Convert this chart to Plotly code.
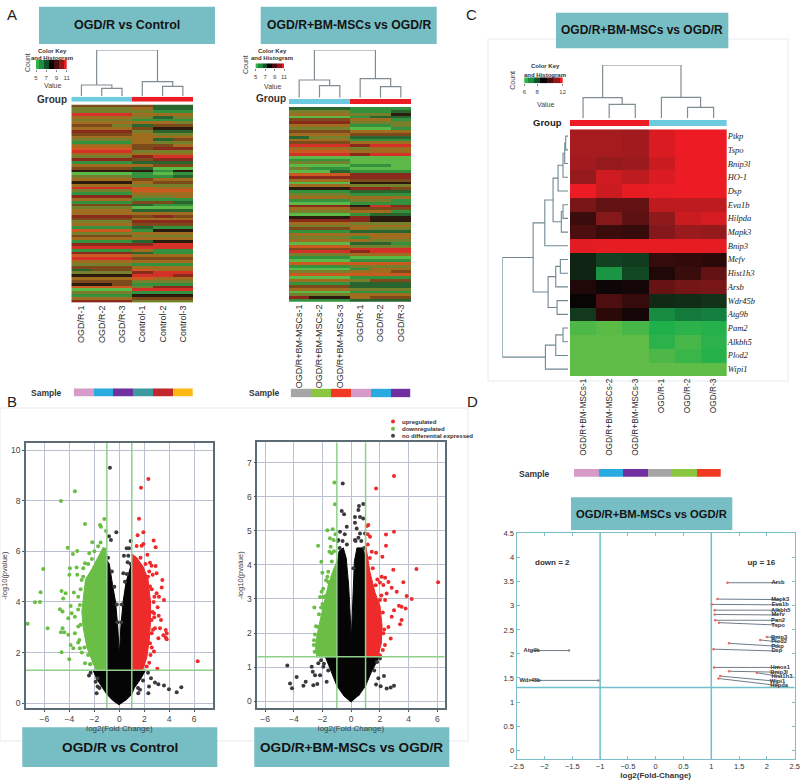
import plotly.graph_objects as go

W, H = 800, 780

# ---------- data ----------
SAMPLES_A = ["OGD/R-1", "OGD/R-2", "OGD/R-3", "Control-1", "Control-2", "Control-3"]
SAMPLES_B = ["OGD/R+BM-MSCs-1", "OGD/R+BM-MSCs-2", "OGD/R+BM-MSCs-3", "OGD/R-1", "OGD/R-2", "OGD/R-3"]
GENES_C = ["Ptkp", "Tspo", "Bnip3l", "HO-1", "Dsp", "Eva1b", "Hilpda", "Mapk3", "Bnip3", "Mefv",
           "Hist1h3", "Arsb", "Wdr45b", "Atg9b", "Pam2", "Alkbh5", "Plod2", "Wipi1"]
HEAT_C = [
    [.70, .70, .68, .92, 1, 1], [.70, .70, .68, .92, 1, 1], [.68, .62, .65, .85, 1, 1],
    [.62, .87, .80, .92, 1, 1], [1, .85, .97, .98, 1, 1], [.50, .40, .40, .80, .80, .80],
    [.22, .55, .38, .60, .85, .90], [.30, .22, .20, .55, .65, .62], [.95, .97, .97, .97, .97, .97],
    [-.10, -.20, -.18, .20, .18, .15], [-.10, -.55, -.22, .10, .22, .40], [.10, .02, .05, .42, .48, .50],
    [0, .30, .20, -.12, -.13, -.15], [-.17, .15, .05, -.50, -.40, -.43], [-.88, -.93, -.85, -.70, -.75, -.72],
    [-.95, -.95, -.95, -.75, -.85, -.75], [-.95, -.95, -.95, -.88, -.80, -.73], [-.95, -.95, -.95, -.95, -.95, -.95],
]
# stripe heatmaps: one letter per sample, G bright green ... S bright red
HEAT_A_ROWS = [
 "BBBBDD","VVVODD","VVVVMM","SSSOOO","OOOVDV","VVVMMM","OOOOOV","BBVDBB","OOOBKK","RRRVDD",
 "BBBOVV","OOOOOO","VVVODB","MMMOVV","OOOBBO","EEEBRR","SSSVVV","OOOOOO","VVVRSS","RRRBRR",
 "MMMDDD","OOOOBB","BBBDGG","KKKKMK","GGGMGM","VVVMMD","OOOBOO","KKKOBB","OOOVVV","SSSEOO",
 "VVVEEE","MMMOOO","RRRVVO","OOOMMM","MMMBBD","BBBDMM","VVVGGG","OOODDD","OOOOOO","RRRBRB",
 "BBBOOO","VVVRRR","OOOBBB","MMMDMM","EEEMKK","VVVOOO","BBBVVV","OOOOOO","MMMDKK","RRRRSS",
 "SSSSSS","MMMOMM","RRRDMM","EEEOOO","SSSBBB","OOOOOO","VVVMMM","BBBOOO","DBBEOO","VVVRSS",
 "KKKSSR","OOOEOO","BBBVVV","KKBMMM","EEEVRR","GGGSSS","VVVMMM","MMMKKK","OOOBBB","RRRVVV",
]
HEAT_B_ROWS = [
 "DDDMMM","VVVMMD","OOOVVK","GGGMDD","BBBOOM","RRRVVV","OOOMMV","VVVGGM","BBBOOO","OOOBBB",
 "DVVDDD","OOOMMM","BBBOOO","SSSRSS","OOOVOO","EEEOOO","SSSRSS","GGGGGG","MMMGGG","VVVGGG",
 "GGGMMG","VMMGGG","GGDMMM","EEERRR","RRRRRR","OOOBBB","GGGKKK","OOOVVV","KKKRRB","MMMDDD",
 "VVVMMM","OOOOOO","MMMVVM","GGGMMM","RRRKSR","OOOBBB","VVVOOM","GGGMDD","KKKRKK","RRRRKK",
 "OOOVVV","VVVOOO","BBBOVV","MMMDDD","OOOOOO","VVVMOO","OOOOVV","GGGDDM","EEEVVV","BBBSSS",
 "SSSRSS","VVVOOO","MMMGGG","GGGMMM","EEEEEE","MMMVVV","GGGMOO","VVVOOB","EEEEEE","GGGMMM",
 "OOOVBB","MMMDDD","BBBDDD","OOOVVV","GGGMMM","VVVOOO","RKKOBB","MMMDDD",
]
TREE_COL_A = ((1, (2, 3, 7.7), 11), (4, (5, 6, 9.7), 14.3), 46)
TREE_COL_B = ((1, (2, 3, 12), 17.7), (4, (5, 6, 11), 19), 47.7)
TREE_COL_C = ((1, (2, 3, 14), 20.6), (4, (5, 6, 11), 21), 53.3)
TREE_ROW_C = (
    ((((((((1, 2, 2.3), 3, 3.3), 4, 5), 5, 10), ((6, 7, 5), 8, 6.7), 15), 9, 23.3),
      (((10, 11, 7.7), 12, 12.3), (13, 14, 11), 20), 35),
     (((15, 16, 5), 17, 12.3), 18, 22.7), 66))

V1_BLACK_X = [0, -.5, -1, -1.4, -1.8, -2.1, -1, -1, -.8, -.55, -.3, -.12, -.05, 0, .06, .12, .3, .55, .85, 1, 1, 2.1, 1.7, 1.2, 1, .5]
V1_BLACK_Y = [-.07, .1, .35, .65, .95, 1.3, 1.3, 5.65, 5.5, 4.7, 4, 3, 2.4, 1.9, 2.4, 3, 4, 4.8, 5.3, 5.6, 1.3, 1.3, .95, .6, .35, .1]
V1_GREEN_X = [-1, -1.9, -2.2, -2.6, -2.9, -3, -2.85, -2.7, -2.2, -1.8, -1.3, -1]
V1_GREEN_Y = [1.3, 1.35, 1.7, 2.2, 3, 3.6, 4.3, 4.9, 5.3, 5.7, 6.15, 6.1]
V1_RED_X = [1, 1.9, 2.2, 2.4, 2.5, 2.5, 2.3, 1.9, 1.4, 1]
V1_RED_Y = [1.3, 1.35, 1.8, 2.5, 3.2, 4, 4.9, 5.4, 5.75, 5.9]
V1_UP_X = [2.33,1.74,1.58,1.93,1.47,2.75,2.91,1.93,1.79,1.39,2.25,2.46,3.45,2.91,2.59,2.99,2.67,3.4,2.46,2.99,2.81,3.18,3.58,3.07,2.78,3.16,3.34,3.72,3.8,3.53,3.72,3.8,3.26,2.86,2.59,3.13,2.78,6.28,3.05,2.46,2.59,
           2.6,2.7,2.8,2.75,2.6,2.4,2.1,1.7,2.5,2.4,2.2,2.65,2.3]
V1_UP_Y = [8.86,8.51,7.29,6.75,6.64,6.43,6.16,6.29,6.22,6.21,5.86,5.55,4.87,5.42,5.43,5.13,5.07,4.57,4.61,4.34,4.21,4.21,4.08,3.79,3.55,3.45,3.29,2.89,2.76,2.68,2.6,2.53,2.96,2.96,3.29,2.57,2.04,1.66,1.36,2.37,2.76,
           2.2,2.9,3.4,4,4.5,5.2,5.5,5.75,1.9,1.6,1.45,3.6,5]
V1_DOWN_X = [-7.35,-6.76,-6.36,-6.31,-6.1,-5.75,-4.68,-3.56,-2.75,-1.55,-1.47,-1.2,-4.14,-3.72,-3.37,-2.41,-2.17,-1.07,-4.63,-4.3,-4.5,-3.96,-4,-3.42,-3.37,-2.89,-2.75,-3.02,-3.64,-3.9,-4.76,-4.55,-3.82,-4.09,-3.56,-4.55,-4.68,-4.41,-4.09,-3.9,-3.69,-4.63,-4.01,-3.16,-2.75,-2.35,-3.56,-3.29,-3.16,-3.29,-2.62,
             -3.2,-3.1,-3.3,-3.1,-2.9,-2.5,-2.2,-2,-1.7,-1.5,-2.8,-2.5,-3,-3.3,-2.3]
V1_DOWN_Y = [3.14,3.99,4,4.38,5.3,2.96,7.99,8.37,7.08,7.04,6.97,7.28,6.14,5.89,6.01,5.92,6.36,6.8,4.43,4.34,4.14,5.33,5.07,5.36,5.07,5.33,5.53,4.87,4.37,3.84,3.71,3.62,3.55,3.36,3.42,2.96,2.8,2.8,2.7,2.3,2.17,2.01,1.74,2.17,1.58,1.54,2.76,3.03,3.88,4.21,4.61,
             2.5,3.1,3.7,4.5,5,5.5,5.7,6,6.2,6.35,2.2,1.9,2,2.4,1.55]
V1_NS_X = [-.75,-.24,-.83,-.67,.91,.78,.59,.37,.72,.67,.32,-2.43,-1.74,-1.82,-1.74,2.54,2.38,2.86,3.13,3.58,3.98,4.6,4.97,2.33,1.66,1.52,
           -.9,-.6,-.4,-.2,.2,.45,.6,.9,-2.3,2.3,-1.6,1.5,-1.9,1.9,-.15,.15]
V1_NS_Y = [9.3,6.75,6.6,6.45,6.41,6.12,6.12,5.83,5.83,5.57,5.13,1.09,.99,.39,.66,.99,.66,.82,.75,.7,.55,.43,.63,.39,.53,.39,
           5.75,5.2,4.6,3.9,3.9,4.8,5.1,5.5,1.2,1.2,.6,.6,.85,.9,3.2,3.2]

V2_BLACK_X = [0, -.5, -1, -1.4, -1.8, -1, -1, -.85, -.55, -.35, -.18, -.08, 0, .08, .17, .22, .4, .85, 1, 1, 1.95, 1.4, 1, .5]
V2_BLACK_Y = [-.03, .15, .45, .85, 1.3, 1.3, 3.9, 4.4, 4.5, 4.2, 3.4, 2.6, 1.8, 2.6, 3.4, 4.1, 4.5, 4.5, 4.1, 1.3, 1.3, .85, .45, .15]
V2_GREEN_X = [-1, -2.4, -2.5, -2.35, -2.1, -1.85, -1.6, -1.3, -1]
V2_GREEN_Y = [1.3, 1.3, 1.6, 2, 2.5, 3, 3.4, 3.8, 4.1]
V2_RED_X = [1, 1.85, 2.1, 2.15, 2, 1.65, 1.3, 1.1, 1]
V2_RED_Y = [1.3, 1.3, 1.7, 2.2, 2.8, 3.2, 3.8, 4.3, 4.6]
V2_UP_X = [2.98,1.73,2.98,2.42,2.42,2.17,2.93,4.54,6.05,3.63,3.86,4.21,1.08,1.19,1.31,1.43,1.73,2.12,2.36,1.82,2.59,2,2.24,2.82,3.17,2.47,3.33,3.51,3.79,3.51,3.4,2.98,2.82,2.59,2.75,2.24,1.89,2.36,2,
           2.2,2.3,2.2,2.1,1.7,1.5,1.3,1.15,1.15,2,2.35]
V2_UP_Y = [6.61,6.24,4.97,4.89,4.56,4.24,3.86,3.88,3.49,3.49,3.09,3,5.14,5.17,4.83,4.39,4.36,3.65,3.62,3.57,3.5,3.48,3.41,3.33,3.21,3.16,2.8,2.77,2.72,2.38,2.26,2.67,2.48,2.18,1.84,1.99,2.57,2.97,2.97,
           1.5,2.1,2.6,3.1,3.4,3.9,4.2,4.6,4.9,1.35,1.65]
V2_DOWN_X = [-1.17,-1.13,-2.31,-1.66,-1.29,-2.08,-2.01,-1.48,-1.52,-1.36,-1.43,-1.66,-1.59,-1.75,-2.06,-2.17,-1.94,-2.57,-2.1,-2.29,-2.52,-2.59,-1.24,
             -2.55,-2.6,-2.45,-2.25,-2,-1.95,-1.75,-1.6,-1.35,-1.2,-1.1,-2.3]
V2_DOWN_Y = [6.42,5.78,4.56,5.02,5.05,4.09,3.77,4.78,4.39,4.34,4.53,3.65,3.5,3.55,3.21,3.06,3.06,2.75,2.75,2.18,1.96,1.79,4.73,
             1.45,1.65,2.2,2.55,2.85,3.3,3.1,3.8,4.1,4.4,4.9,1.35]
V2_NS_X = [-.59,-.66,-.5,.84,.54,.5,.26,.61,.84,.26,.38,.61,.96,-.78,-.31,-.9,.26,-4.45,-3.8,-4.26,-4.12,-3.33,-3.17,-2.64,-2.36,-2.75,-2.68,-2.52,-2.17,-1.71,2.28,1.73,2.05,2.47,2.75,2.98,1.89,-1.94,-2.29,
           -.95,-.8,-.6,-.3,.3,.5,.7,.9,-2.1,-1.9,-1.6,1.6,2,1.8,-.45,.15]
V2_NS_Y = [6.39,5.58,5.49,5.79,5.73,5.61,5.41,5.41,5.36,5.24,5.07,4.92,4.92,4.97,5.12,4.73,4.73,1.05,.71,.52,.38,.45,.57,.47,.5,1.01,.86,.76,.76,.57,.74,.49,.44,.37,.4,.45,.67,1.01,1.11,
           4.7,4.5,4.7,4.6,4.7,4.8,4.7,4.5,1.2,1.1,.9,.9,1.25,1.15,4.9,3.9]

D_GENES = ["Arsb","Mapk3","Eva1b","Alkbh5","Mefv","Pan2","Tspo","Bnip3","Plod2","Ptkp","Dsp","Hmox1","Bnip3l","Hist1h3","Wipi1","Hilpda","Atg9b","Wdr45b"]
D_FC = [1.29,1.11,1.01,1.06,1.06,1.07,1.14,2.0,1.88,1.32,1.04,1.05,1.32,1.82,1.16,1.13,-1.56,-1.03]
D_P = [3.48,3.14,3.03,2.91,2.82,2.70,2.65,2.35,2.29,2.22,2.10,1.72,1.64,1.61,1.54,1.49,2.07,1.45]
D_LABEL_X = [2.2,2.24,2.24,2.25,2.2,2.2,2.2,2.22,2.22,2.19,2.18,2.24,2.22,2.27,2.19,2.22,-2.23,-2.26]
D_LABEL_Y = [3.48,3.13,3.02,2.91,2.81,2.70,2.60,2.35,2.25,2.16,2.06,1.72,1.62,1.52,1.43,1.34,2.07,1.45]

KEY_A = [5, 6, 7, 8, 9, 10, 11]
KEY_C = [6, 7, 8, 9, 10, 11, 12]
FC_CUT = [-1, 1]
P_CUT = 1.3

# ---------- styles ----------
TEAL = "#76BDC4"
SKY, RED = "#6CCBE0", "#ED1C24"
PINK, BLUE, PURPLE, SEA, CRIM, AMBER = "#D79BC9", "#29ABE2", "#7030A0", "#3F9AA0", "#C1272D", "#FDB913"
GRAY, LIME, VERM = "#A6A6A6", "#8CC63F", "#F03A24"
CODES = "GMDKVOBRES"
PALETTE = ["#5cb947", "#34923f", "#2a6530", "#2c1c10", "#76802c", "#a06c20", "#7d4a1c", "#8a2a1c", "#cc5a20", "#d43228"]
KEY_SCALE = [[0, "#2fb34a"], [.25, "#137a3c"], [.5, "#0a0505"], [.75, "#6b1212"], [1, "#ed1c24"]]
C_SCALE = [[0, "#6cbe45"], [.15, "#1fb04b"], [.3, "#137a3c"], [.425, "#12331a"], [.5, "#0a0505"],
           [.65, "#4c0e0e"], [.8, "#8f1a1c"], [1, "#ed1c24"]]
SANS = "Liberation Sans"
fig = go.Figure()
n_ax = 0


def px(x0, x1):
    return [x0 / W, x1 / W]


def py(y0, y1):
    return [1 - y1 / H, 1 - y0 / H]


def axes(box, xopt=None, yopt=None):
    """Create an x/y axis pair on a pixel box (x0, x1, y0, y1)."""
    global n_ax
    n_ax += 1
    s = "" if n_ax == 1 else str(n_ax)
    hidden = dict(visible=False, fixedrange=True, automargin=False)
    xa = dict(hidden, domain=px(box[0], box[1]), anchor="y" + s)
    ya = dict(hidden, domain=py(box[2], box[3]), anchor="x" + s)
    xa.update(xopt or {})
    ya.update(yopt or {})
    fig.layout["xaxis" + s] = xa
    fig.layout["yaxis" + s] = ya
    return "x" + s, "y" + s


def discrete(colors):
    n = len(colors)
    out = []
    for i, c in enumerate(colors):
        out += [[i / n, c], [(i + 1) / n, c]]
    return out


def strip(colors, box):
    xa, ya = axes(box, dict(range=[-.5, len(colors) - .5]), dict(range=[-.5, .5]))
    fig.add_trace(go.Heatmap(z=[list(range(len(colors)))], colorscale=discrete(colors), zmin=-.5,
                             zmax=len(colors) - .5, showscale=False, hoverinfo="skip", xaxis=xa, yaxis=ya))


def walk(node, pos, hgt):
    if isinstance(node, int):
        return node, 0
    pa, ha = walk(node[0], pos, hgt)
    pb, hb = walk(node[1], pos, hgt)
    pos += [pa, pa, pb, pb, None]
    hgt += [ha, node[2], node[2], hb, None]
    return (pa + pb) / 2, node[2]


def dendro_col(tree, box):
    pos, hgt = [], []
    walk(tree, pos, hgt)
    xa, ya = axes(box, dict(range=[.5, 6.5]), dict(range=[0, box[3] - box[2]]))
    fig.add_trace(go.Scatter(x=pos, y=hgt, mode="lines", line=dict(color="#7f8c92", width=1.2),
                             hoverinfo="skip", showlegend=False, xaxis=xa, yaxis=ya))


def stripes(rows, names, box, size):
    z = [[CODES.index(c) for c in r] for r in rows]
    xa, ya = axes(box,
                  dict(visible=True, showline=False, showgrid=False, ticks="", tickangle=-90, type="category",
                       tickfont=dict(family=SANS, size=size, color="#2a2a2a"), zeroline=False),
                  dict(autorange="reversed"))
    fig.add_trace(go.Heatmap(z=z, x=names, colorscale=discrete(PALETTE), zmin=-.5, zmax=len(PALETTE) - .5,
                             showscale=False, hoverinfo="skip", xaxis=xa, yaxis=ya))


def note(text, x, y, size=9, color="#222", bold=False, angle=0, family=SANS):
    fig.add_annotation(x=x / W, y=1 - y / H, xref="paper", yref="paper", text=f"<b>{text}</b>" if bold else text,
                       showarrow=False, font=dict(family=family, size=size, color=color), textangle=angle,
                       xanchor="center", yanchor="middle")


def box(x0, x1, y0, y1, text, size):
    fig.add_shape(type="rect", xref="paper", yref="paper", x0=x0 / W, x1=x1 / W, y0=1 - y1 / H, y1=1 - y0 / H,
                  fillcolor=TEAL, line=dict(width=0), layer="below")
    note(text, (x0 + x1) / 2, (y0 + y1) / 2, size, "#141414", True)


def key(values, ticks, box_, title_y, title_x, value_y, count_x, count_y, tick_size=6):
    xa, ya = axes(box_, dict(visible=True, range=[values[0], values[-1]], tickvals=ticks, ticks="outside", ticklen=2,
                             tickcolor="#888", showline=False, showgrid=False, zeroline=False,
                             tickfont=dict(family=SANS, size=tick_size, color="#444")),
                  dict(range=[-.5, .5]))
    fig.add_trace(go.Heatmap(z=[values], x=values, colorscale=KEY_SCALE, showscale=False, hoverinfo="skip",
                             xaxis=xa, yaxis=ya))
    note("Color Key", title_x, title_y[0], 6, "#333", True)
    note("and Histogram", title_x, title_y[1], 6, "#333", True)
    note("Value", title_x, value_y, 7, "#444")
    note("Count", count_x, count_y, 7, "#444", angle=-90)


def volcano(box_, xr, yr, yticks, xt_x, blk, grn, redp, up, down, ns, size):
    lin = dict(showline=True, mirror=True, linecolor="#5d6b75", linewidth=1.5, showgrid=True, gridcolor="#b9c1d0",
               gridwidth=1.2, zeroline=False, ticks="outside", ticklen=2, tickcolor="#555", visible=True,
               tickfont=dict(family=SANS, size=8.5, color="#444"))
    xa, ya = axes(box_,
                  dict(lin, range=xr, tickvals=xt_x,
                       title=dict(text="log2(Fold Change)", standoff=1, font=dict(family=SANS, size=8, color="#444"))),
                  dict(lin, range=yr, tickvals=yticks,
                       title=dict(text="-log10(pvalue)", standoff=2, font=dict(family=SANS, size=7.5, color="#444"))))
    for (xs, ys), c in ((blk, "#050505"), (grn, "#6ABD45"), (redp, "#EE2A2A")):
        fig.add_trace(go.Scatter(x=xs, y=ys, mode="lines", fill="toself", fillcolor=c, line=dict(color=c, width=1),
                                 hoverinfo="skip", showlegend=False, xaxis=xa, yaxis=ya))
    for (xs, ys), c in ((ns, "#3a3a3a"), (down, "#6ABD45"), (up, "#EE2A2A")):
        fig.add_trace(go.Scatter(x=xs, y=ys, mode="markers", marker=dict(color=c, size=size), hoverinfo="skip",
                                 showlegend=False, xaxis=xa, yaxis=ya))
    for c in FC_CUT:
        fig.add_trace(go.Scatter(x=[c, c], y=yr, mode="lines", line=dict(color="#8fd08a", width=1.5), hoverinfo="skip",
                                 showlegend=False, xaxis=xa, yaxis=ya))
    fig.add_trace(go.Scatter(x=xr, y=[P_CUT, P_CUT], mode="lines", line=dict(color="#8fd08a", width=1.5),
                             hoverinfo="skip", showlegend=False, xaxis=xa, yaxis=ya))


# ---------- faint panel frames ----------
for x0, x1, y0, y1 in ((0, 468, 408, 741), (488, 788, 39, 381)):
    fig.add_shape(type="rect", xref="paper", yref="paper", x0=x0 / W, x1=x1 / W, y0=1 - y1 / H, y1=1 - y0 / H,
                  line=dict(color="#eef1f5", width=1.5), layer="below")

# ---------- title boxes ----------
box(39, 215, 6.7, 44, "OGD/R vs Control", 12.5)
box(260.7, 436.7, 6.7, 44, "OGD/R+BM-MSCs vs OGD/R", 12.2)
box(556, 728.3, 12.7, 48.3, "OGD/R+BM-MSCs vs OGD/R", 12)
box(571, 732.3, 497.3, 530, "OGD/R+BM-MSCs vs OGD/R", 11.2)
box(22.3, 217.3, 727.3, 767, "OGD/R vs Control", 13.7)
box(254.3, 449.3, 727.3, 767, "OGD/R+BM-MSCs vs OGD/R", 13.6)

for t, x, y in (("A", 12, 14), ("B", 12, 401.7), ("C", 471, 14), ("D", 472, 401.7)):
    note(t, x, y, 15, "#222")
note("Group", 52, 99, 10, "#333", True)
note("Group", 270.7, 98, 10, "#333", True)
note("Group", 547, 122, 9.5, "#222", True)
note("Sample", 46.7, 392.7, 8.5, "#333", True)
note("Sample", 264, 392.7, 8.5, "#333", True)
note("Sample", 534, 473.7, 8.5, "#333", True)

# ---------- heatmaps ----------
stripes(HEAT_A_ROWS, SAMPLES_A, (71.3, 193, 104.5, 302.7), 9)
stripes(HEAT_B_ROWS, SAMPLES_B, (289, 411, 107, 301.7), 9)
dendro_col(TREE_COL_A, (71.3, 193, 50, 96))
dendro_col(TREE_COL_B, (289, 411, 50, 97.7))
dendro_col(TREE_COL_C, (570, 726.7, 65, 118.3))
strip([SKY, RED], (71.3, 193, 96.7, 101.7))
strip([SKY, RED], (289, 411, 99, 104))
strip([RED, SKY], (570, 726.7, 120, 126))
strip([PINK, BLUE, PURPLE, SEA, CRIM, AMBER], (73.7, 193, 388.3, 396.7))
strip([GRAY, LIME, VERM, PINK, BLUE, PURPLE], (290.7, 410.3, 388.6, 397.3))
strip([PINK, BLUE, PURPLE, GRAY, LIME, VERM], (574, 720.7, 469, 476.7))

xa, ya = axes((570, 726.7, 129.3, 376),
              dict(visible=True, showline=False, showgrid=False, ticks="", tickangle=-90, type="category", zeroline=False,
                   tickfont=dict(family=SANS, size=8.3, color="#2a2a2a")),
              dict(visible=True, side="right", showline=False, showgrid=False, ticks="", zeroline=False, type="category",
                   autorange="reversed", tickmode="array", tickvals=GENES_C, ticktext=[f"<i>{g}</i>" for g in GENES_C],
                   tickfont=dict(family="Liberation Serif", size=8.5, color="#222")))
fig.add_trace(go.Heatmap(z=HEAT_C, x=SAMPLES_B, y=GENES_C, colorscale=C_SCALE, zmin=-1, zmax=1, showscale=False,
                         hoverinfo="skip", xaxis=xa, yaxis=ya))
pos, hgt = [], []
walk(TREE_ROW_C, pos, hgt)
xa, ya = axes((502.3, 568, 129.3, 376), dict(range=[66, 0]), dict(range=[18.5, .5]))
fig.add_trace(go.Scatter(x=hgt, y=pos, mode="lines", line=dict(color="#6f8792", width=1.1), hoverinfo="skip",
                         showlegend=False, xaxis=xa, yaxis=ya))

key(KEY_A, [5, 7, 9, 11], (36, 66.7, 60, 69.3), (51, 58), 52, 85, 27, 63)
key(KEY_A, [5, 7, 9, 11], (255.7, 284, 63.3, 68.3), (51, 58), 272, 86, 245, 65)
key(KEY_C, [6, 8, 12], (524.3, 562.7, 77.3, 83.3), (66, 75.3), 545, 105, 512.7, 80)

# ---------- volcano plots ----------
volcano((26, 213, 443, 708), [-7.48, 7.51], [-.19, 10.28], [0, 2, 4, 6, 8, 10], [-6, -4, -2, 0, 2, 4, 6],
        (V1_BLACK_X, V1_BLACK_Y), (V1_GREEN_X, V1_GREEN_Y), (V1_RED_X, V1_RED_Y),
        (V1_UP_X, V1_UP_Y), (V1_DOWN_X, V1_DOWN_Y), (V1_NS_X, V1_NS_Y), 4)
volcano((257.3, 444.7, 442.3, 708.3), [-6.54, 6.51], [-.21, 7.6], [0, 1, 2, 3, 4, 5, 6, 7], [-6, -4, -2, 0, 2, 4, 6],
        (V2_BLACK_X, V2_BLACK_Y), (V2_GREEN_X, V2_GREEN_Y), (V2_RED_X, V2_RED_Y),
        (V2_UP_X, V2_UP_Y), (V2_DOWN_X, V2_DOWN_Y), (V2_NS_X, V2_NS_Y), 4)

# legend of the second volcano
LEG_NAMES = ["upregulated", "downregulated", "no differential expressed"]
LEG_COLORS = ["#EE2A2A", "#6ABD45", "#444444"]
xa, ya = axes((388, 398, 418, 439.3), dict(range=[-1, 1]), dict(range=[2.5, -.5]))
fig.add_trace(go.Scatter(x=[0, 0, 0], y=[0, 1, 2], mode="markers", marker=dict(color=LEG_COLORS, size=4),
                         hoverinfo="skip", showlegend=False, xaxis=xa, yaxis=ya))
for name, y in zip(LEG_NAMES, (421.7, 429, 435.7)):
    fig.add_annotation(x=400 / W, y=1 - y / H, xref="paper", yref="paper", text=f"<b>{name}</b>", showarrow=False,
                       xanchor="left", yanchor="middle", font=dict(family=SANS, size=6, color="#333"))

# ---------- panel D ----------
d_ax = dict(visible=True, showline=True, mirror="ticks", linecolor="#7BBDC9", linewidth=1.3, showgrid=False,
            zeroline=False, ticks="inside", ticklen=3, tickcolor="#7BBDC9", ticklabeloverflow="allow",
            tickfont=dict(family=SANS, size=7.5, color="#333"))
xa, ya = axes((516.7, 794.7, 532.7, 759.3),
              dict(d_ax, range=[-2.5, 2.5], dtick=.5, tickformat="~g",
                   title=dict(text="<b>log2(Fold-Change)</b>", standoff=1, font=dict(family=SANS, size=8, color="#333"))),
              dict(d_ax, range=[-.19, 4.52], dtick=.5, tickformat="~g"))
for c in FC_CUT:
    fig.add_trace(go.Scatter(x=[c, c], y=[-.19, 4.52], mode="lines", line=dict(color="#6FC0CC", width=1.5),
                             hoverinfo="skip", showlegend=False, xaxis=xa, yaxis=ya))
fig.add_trace(go.Scatter(x=[-2.5, 2.5], y=[P_CUT, P_CUT], mode="lines", line=dict(color="#6FC0CC", width=1.5),
                         hoverinfo="skip", showlegend=False, xaxis=xa, yaxis=ya))
for fc, p, lx, ly in zip(D_FC, D_P, D_LABEL_X, D_LABEL_Y):
    fig.add_trace(go.Scatter(x=[fc, lx], y=[p, ly], mode="lines", line=dict(color="#6f7c88", width=1),
                             hoverinfo="skip", showlegend=False, xaxis=xa, yaxis=ya))
fig.add_trace(go.Scatter(x=D_FC, y=D_P, mode="markers", marker=dict(size=2.5, color=["#e9695f" if f > 0 else "#888" for f in D_FC]),
                         hoverinfo="skip", showlegend=False, xaxis=xa, yaxis=ya))
fig.add_trace(go.Scatter(x=D_LABEL_X, y=D_LABEL_Y, mode="text", text=[f"<b>{g}</b>" for g in D_GENES],
                         textposition="middle center", textfont=dict(family=SANS, size=5.8, color="#333"),
                         hoverinfo="skip", showlegend=False, xaxis=xa, yaxis=ya))
fig.add_trace(go.Scatter(x=[-1.86, 1.9], y=[3.9, 3.9], mode="text", text=["<b>down = 2</b>", "<b>up = 16</b>"],
                         textposition="middle center", textfont=dict(family=SANS, size=8, color="#333"),
                         hoverinfo="skip", showlegend=False, xaxis=xa, yaxis=ya))

fig.update_layout(width=W, height=H, autosize=False, margin=dict(l=0, r=0, t=0, b=0, pad=0, autoexpand=False),
                  paper_bgcolor="white", plot_bgcolor="white", showlegend=False)
fig.write_html("out.html", config=dict(displayModeBar=False),
               post_script="document.documentElement.style.margin='0';document.body.style.margin='0';")
